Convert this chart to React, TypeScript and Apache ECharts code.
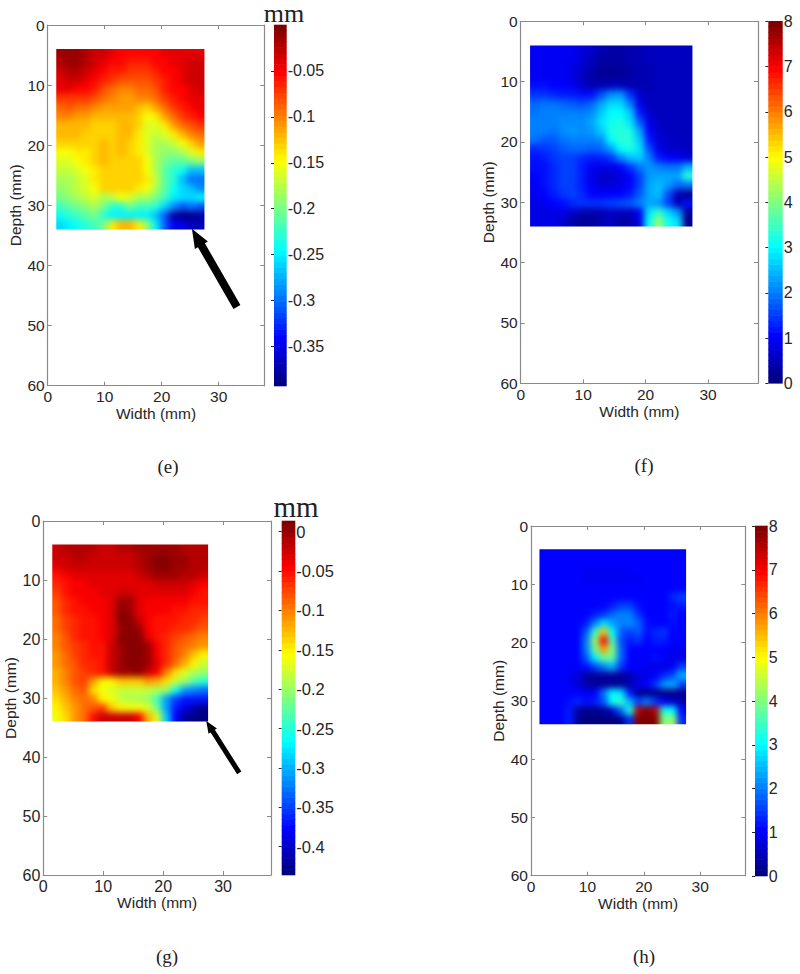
import React, { useEffect, useRef } from "react";
import * as echarts from "echarts";

// Surface values in hundredths of a millimetre (panels e, g), read row by row from 4 to 34 mm depth
const valuesE = [
  [-1,-1,-1,-2,-3,-3,-4,-5,-5,-5,-5,-5,-4,-4,-4,-4,-4],
  [-2,-1,-1,-2,-3,-4,-5,-5,-6,-6,-6,-5,-5,-4,-4,-3,-3],
  [-3,-2,-2,-3,-4,-5,-6,-6,-7,-7,-7,-6,-5,-5,-4,-3,-3],
  [-4,-3,-3,-4,-5,-6,-7,-8,-8,-8,-8,-7,-6,-5,-4,-3,-3],
  [-4,-4,-5,-5,-6,-8,-9,-10,-10,-9,-9,-8,-6,-5,-5,-4,-3],
  [-7,-7,-7,-7,-8,-9,-10,-11,-11,-10,-10,-9,-7,-6,-5,-4,-4],
  [-9,-8,-9,-9,-10,-11,-11,-11,-11,-12,-13,-11,-9,-7,-6,-5,-4],
  [-10,-10,-11,-11,-12,-12,-12,-12,-12,-13,-15,-14,-11,-9,-7,-6,-5],
  [-12,-12,-12,-12,-13,-13,-13,-12,-12,-13,-16,-16,-14,-11,-9,-8,-7],
  [-12,-12,-12,-13,-13,-13,-13,-12,-12,-14,-16,-17,-16,-14,-12,-10,-9],
  [-13,-13,-13,-13,-13,-12,-13,-12,-13,-14,-16,-18,-18,-17,-15,-13,-11],
  [-15,-15,-14,-14,-13,-12,-13,-12,-13,-14,-16,-18,-19,-19,-18,-16,-14],
  [-16,-16,-15,-14,-13,-12,-13,-13,-13,-13,-15,-18,-20,-21,-21,-20,-19],
  [-17,-17,-16,-15,-14,-13,-13,-13,-13,-13,-15,-18,-21,-23,-24,-27,-27],
  [-18,-18,-17,-16,-14,-13,-13,-13,-13,-13,-14,-17,-21,-23,-27,-30,-30],
  [-19,-18,-17,-16,-15,-13,-13,-13,-13,-14,-15,-18,-21,-24,-26,-27,-29],
  [-20,-19,-18,-17,-16,-18,-17,-15,-16,-18,-18,-20,-22,-25,-26,-26,-25],
  [-22,-21,-20,-19,-18,-20,-23,-23,-20,-22,-22,-23,-26,-29,-31,-30,-31],
  [-24,-23,-22,-21,-20,-23,-25,-25,-25,-25,-25,-27,-31,-38,-39,-39,-38],
  [-26,-25,-24,-23,-22,-20,-14,-12,-12,-14,-19,-25,-31,-35,-35,-37,-37],
];
const valuesG = [
  [-2,-1,-1,-1,-1,-2,-2,-1,-1,0,0,0,0,0,-1,-1,-1],
  [-2,-2,-1,-1,-2,-2,-2,-2,-2,-1,0,1,1,0,0,-1,-1],
  [-3,-2,-2,-2,-2,-2,-2,-2,-2,-1,0,1,1,0,0,-1,-1],
  [-5,-4,-3,-3,-3,-3,-3,-3,-3,-2,-1,0,0,0,-1,-1,-2],
  [-6,-5,-4,-4,-3,-3,-3,-3,-3,-3,-3,-2,-2,-2,-2,-3,-4],
  [-7,-5,-4,-4,-4,-3,-3,-2,-2,-3,-3,-3,-3,-3,-3,-4,-5],
  [-8,-6,-5,-4,-4,-4,-3,0,0,-3,-4,-4,-4,-4,-4,-5,-5],
  [-8,-6,-5,-5,-4,-4,-3,1,0,-3,-4,-4,-4,-5,-5,-6,-6],
  [-9,-7,-6,-5,-5,-4,-3,1,1,-2,-4,-5,-5,-5,-6,-6,-7],
  [-9,-7,-6,-5,-5,-4,-3,0,1,0,-4,-5,-5,-6,-6,-7,-8],
  [-10,-8,-6,-5,-5,-4,-3,1,1,1,-3,-5,-6,-7,-8,-9,-10],
  [-10,-8,-7,-6,-5,-5,-2,0,1,1,0,-4,-6,-8,-9,-10,-11],
  [-11,-9,-7,-6,-5,-5,-2,0,1,1,0,-4,-6,-8,-10,-13,-15],
  [-11,-9,-8,-6,-6,-5,-2,0,1,1,0,-3,-6,-9,-12,-15,-18],
  [-12,-10,-8,-7,-6,-5,-2,0,0,1,-2,-4,-10,-14,-17,-19,-20],
  [-12,-10,-8,-7,-11,-15,-15,-13,-13,-13,-11,-12,-14,-18,-20,-23,-25],
  [-13,-11,-9,-8,-14,-16,-17,-18,-18,-18,-18,-19,-20,-26,-31,-32,-33],
  [-14,-12,-10,-9,-10,-15,-16,-18,-19,-19,-20,-24,-31,-35,-37,-37,-37],
  [-15,-13,-11,-9,-8,-7,-13,-15,-16,-16,-17,-22,-31,-37,-39,-41,-43],
  [-16,-14,-11,-9,-5,-2,-2,-2,-2,-4,-12,-17,-29,-38,-42,-44,-44],
];
// Panels f, h: colour-bar units 0 to 8
const valuesF = [
  [.9,.9,.9,.9,.9,.7,.6,.4,.3,.3,.4,.4,.5,.5,.5,.5,.5],
  [.9,.9,.9,.9,.9,.7,.5,.3,.3,.3,.4,.4,.5,.5,.5,.5,.5],
  [.9,.9,.9,.9,.8,.6,.4,.2,.2,.2,.3,.4,.4,.5,.5,.5,.5],
  [.9,.9,.9,.9,.8,.5,.3,.2,.2,.2,.3,.4,.4,.5,.5,.5,.5],
  [1.1,1.1,1,1,.9,.6,.4,.4,.5,.5,.4,.4,.4,.5,.5,.5,.5],
  [1.4,1.4,1.3,1.2,1.2,1.1,1.1,1.6,2.1,2.2,1.4,.6,.5,.5,.5,.5,.5],
  [1.8,1.9,1.9,1.8,1.7,1.6,1.8,2.3,2.7,2.7,2,.8,.5,.5,.5,.5,.5],
  [1.9,2,2,2,2,2,2.1,2.6,3,3,2.6,1.2,.6,.5,.5,.5,.5],
  [2,2,2,2.1,2.1,2.1,2.3,2.8,3.1,3.2,2.8,1.7,.8,.5,.5,.5,.5],
  [2,2,1.9,2.1,2.2,2.1,2.2,2.6,3.2,3.3,3.2,2.3,1,.6,.5,.5,.5],
  [1.9,1.7,1.7,1.9,2,2,2,2.1,3,3.3,3.3,2.6,1.2,.7,.6,.5,.5],
  [1.3,1.4,1.5,1.7,1.8,1.8,1.7,1.8,2.2,3,3.2,2.8,1.6,.8,.6,.6,.5],
  [1.1,1.2,1.4,1.5,1.5,1.3,1.2,1.2,1.4,2,2.5,2.6,2,1.2,1,.9,.7],
  [1.1,1.1,1.3,1.5,1.5,1.2,.9,.8,.8,1,1.4,1.9,2.2,2,1.9,1.9,2.4],
  [1,1.1,1.3,1.5,1.5,1.2,.8,.6,.6,.7,1,1.5,2.2,2.3,2.3,2.3,3.3],
  [.9,1.1,1.3,1.5,1.5,1.2,.9,.7,.7,.8,1,1.5,2.3,2.5,2.2,1.8,1.9],
  [.9,1,1.2,1.4,1.5,1.3,1,1,1,1,1.2,1.7,2.3,2.5,1.6,.4,.1],
  [.8,.9,1,1.1,1.3,1.4,1.4,1.4,1.5,1.6,1.7,2,2.3,2.2,1.5,.4,1.1],
  [.8,.8,.8,.8,.6,.4,.3,.4,.6,.5,.5,.9,2.8,3.4,2.7,2.2,.2],
  [.8,.8,.8,.6,.3,.2,.2,.4,.5,.3,.3,.8,3,4.2,3.1,2.8,.1],
];
const valuesH = [
  [1,1,1,1,1,1,1,1,1,1,1,1,1,1,1,1,1],
  [1,1,1,1,1,1,1,1,1,1,1,1,1,1,1,1,1],
  [1,1,1,1,1,.9,.9,.9,.9,.9,1,1,1,1,1,1,1],
  [1,1,1,1,1,.9,.9,.9,.9,.9,.9,.9,1,1,1,1,1],
  [1,1,1,1,1,1,1,1,1,1,1,1,1,1,1,1,1],
  [1,1,1,1,1,1,1,1,1,1,1,1,1,1,1,1.3,1.5],
  [1,1,1,1,1,1,1,1,1.2,1.5,1.5,1.1,1,1,1,1.1,1.2],
  [1,1,1,1,1,1,1.2,1.4,1.8,2,2,1.4,1,1,1,1.2,1],
  [1,1,1,1,1,1.2,2,2.8,2.3,2,2.1,1.8,1.1,1,1,1.1,1],
  [1,1,1,1,1,1.7,3.4,5.5,3,1.7,1.5,1.7,1.1,1.3,1.4,1,1],
  [1,1,1,1,1,2,4.2,7,3.6,1.6,1.2,1.4,1,1.2,1.2,1,1],
  [1,1,1,1,1,2,3.8,5.8,4,1.8,1,1,1,1,1,.9,.9],
  [1,1,1,1,1,1.7,2.9,3.8,3.7,1.8,1,1,.9,1.1,1,.8,.8],
  [1,1,1,1,1,1.1,1.5,2,2.4,1.4,1,1,.9,.8,.8,.9,1.5],
  [1,1,1,.9,.7,.3,.2,.2,.2,.2,.4,.7,.8,1,1.3,1.6,2.4],
  [1,1,1,.9,.7,.3,.2,.2,.2,.2,.4,.8,1,1.4,2.2,2.4,1.5],
  [1,1,1,1,1,.9,1,1.9,3,2.8,1.2,.2,.1,.1,.1,.1,.1],
  [1,1,1,1.1,1.3,1.1,1.2,1.7,3.1,3.4,2.4,1.5,2,1.4,.9,.6,.4],
  [1,1,1,1.2,.3,.1,.1,.2,.6,1.8,3.2,7.5,8,7.5,3.2,3,1],
  [1,1,1,1.2,.2,0,0,0,0,.1,1.4,8,8,8,4,4.2,1.3],
];

const widthTicks = [0, 10, 20, 30];
const depthTicks = [0, 10, 20, 30, 40, 50, 60];
const mmTicksE = [-0.05, -0.1, -0.15, -0.2, -0.25, -0.3, -0.35];
const mmTicksG = [0, -0.05, -0.1, -0.15, -0.2, -0.25, -0.3, -0.35, -0.4];
const strainTicks = [0, 1, 2, 3, 4, 5, 6, 7, 8];
const arrowE = [33.2, 46.9, 25.3, 33.9];
const arrowG = [32.7, 42.7, 27.2, 33.9];

const X_RANGE = [1.5, 27.5];
const Y_RANGE = [4, 34];
const AXIS = "#8a8a8a";
const INK = "#262626";
const SANS = "Liberation Sans";
const SERIF = "Liberation Serif";

type Panel = {
  caption: string; capX: number; capY: number;
  box: number[]; bar: number[];
  values: number[][]; scale: number; range: number[]; ticks: number[];
  font: number; nameGapX: number; nameGapY: number;
  unit?: { x: number; y: number; size: number };
  arrow?: { at: number[]; shaft: number; head: number; len: number };
};

const panels: Panel[] = [
  { caption: "(e)", capX: 168, capY: 466, box: [47.7, 25, 216.6, 360.7], bar: [274, 25, 12.7, 361],
    values: valuesE, scale: 0.01, range: [-0.393, 0], ticks: mmTicksE, font: 15.5, nameGapX: 16.5, nameGapY: 20,
    unit: { x: 284, y: 13.2, size: 26 }, arrow: { at: arrowE, shaft: 8, head: 15, len: 19 } },
  { caption: "(f)", capX: 644, capY: 465, box: [520.7, 21.3, 237.3, 362], bar: [768.3, 21.3, 14.4, 362],
    values: valuesF, scale: 1, range: [0, 8], ticks: strainTicks, font: 15.5, nameGapX: 16.5, nameGapY: 24 },
  { caption: "(g)", capX: 167, capY: 956, box: [43.3, 521, 227.7, 354], bar: [281.7, 521, 13.6, 354],
    values: valuesG, scale: 0.01, range: [-0.436, 0.0136], ticks: mmTicksG, font: 16, nameGapX: 15.5, nameGapY: 22,
    unit: { x: 296, y: 507, size: 29 }, arrow: { at: arrowG, shaft: 5, head: 10, len: 12 } },
  { caption: "(h)", capX: 644, capY: 956, box: [531, 526, 214.3, 349.7], bar: [755, 526, 12.7, 350],
    values: valuesH, scale: 1, range: [0, 8], ticks: strainTicks, font: 15.5, nameGapX: 15.5, nameGapY: 18 },
];

const clamp = (v: number) => Math.max(0, Math.min(1, v));
function jet(t: number) {
  const c = (k: number) => Math.round(255 * clamp(1.5 - Math.abs(4 * t - k)));
  return `rgb(${c(3)},${c(2)},${c(1)})`;
}

function heatSeries(p: Panel, i: number) {
  const rows = p.values.length;
  const cols = p.values[0].length;
  const dx = (X_RANGE[1] - X_RANGE[0]) / cols;
  const dy = (Y_RANGE[1] - Y_RANGE[0]) / rows;
  const data: number[][] = [];
  p.values.forEach((row, r) =>
    row.forEach((v, c) =>
      data.push([X_RANGE[0] + dx * (c + 0.5), Y_RANGE[0] + dy * (r + 0.5), v * p.scale, c, r])
    )
  );
  const bleed = 14;
  return {
    type: "custom", xAxisIndex: i, yAxisIndex: i, data, silent: true, clip: false,
    encode: { x: 0, y: 1 },
    renderItem: (_: any, api: any) => {
      const [cx, cy] = api.coord([api.value(0), api.value(1)]);
      const [w, h] = api.size([dx, dy]);
      const c = api.value(3);
      const r = api.value(4);
      let x0 = cx - w / 2 - 0.5, x1 = cx + w / 2 + 0.5;
      let y0 = cy - h / 2 - 0.5, y1 = cy + h / 2 + 0.5;
      if (c === 0) x0 -= bleed;
      if (c === cols - 1) x1 += bleed;
      if (r === 0) y0 -= bleed;
      if (r === rows - 1) y1 += bleed;
      const t = (api.value(2) - p.range[0]) / (p.range[1] - p.range[0]);
      return { type: "rect", shape: { x: x0, y: y0, width: x1 - x0, height: y1 - y0 }, style: { fill: jet(clamp(t)) } };
    },
  };
}

const boxAxes = (p: Panel, i: number) => {
  const base = { type: "value", gridIndex: i };
  const line = { show: true, onZero: false, lineStyle: { color: AXIS, width: 1.2 } };
  const tick = (values: number[]) => ({
    show: true, inside: true, length: 4, customValues: values, lineStyle: { color: AXIS, width: 1 },
  });
  return {
    x: [
      { ...base, position: "bottom", min: 0, max: 38, splitLine: { show: false }, axisLine: line,
        axisTick: tick(widthTicks),
        axisLabel: { customValues: widthTicks, color: INK, fontFamily: SANS, fontSize: p.font, margin: 3 },
        name: "Width (mm)", nameLocation: "middle", nameGap: p.nameGapX,
        nameTextStyle: { color: INK, fontFamily: SANS, fontSize: 15.5 } },
      { ...base, position: "top", min: 0, max: 38, splitLine: { show: false }, axisLine: line,
        axisTick: tick(widthTicks), axisLabel: { show: false } },
    ],
    y: [
      { ...base, position: "left", min: 0, max: 60, inverse: true, splitLine: { show: false }, axisLine: line,
        axisTick: tick(depthTicks),
        axisLabel: { customValues: depthTicks, color: INK, fontFamily: SANS, fontSize: p.font, margin: 3 },
        name: "Depth (mm)", nameLocation: "middle", nameGap: p.nameGapY,
        nameTextStyle: { color: INK, fontFamily: SANS, fontSize: 15.5 } },
      { ...base, position: "right", min: 0, max: 60, inverse: true, splitLine: { show: false }, axisLine: line,
        axisTick: tick(depthTicks), axisLabel: { show: false } },
    ],
  };
};

function heatOption() {
  return {
    animation: false,
    backgroundColor: "transparent",
    grid: panels.map((p) => ({ left: p.box[0], top: p.box[1], width: p.box[2], height: p.box[3] })),
    xAxis: panels.map((p, i) => ({ type: "value", gridIndex: i, min: 0, max: 38, show: false })),
    yAxis: panels.map((p, i) => ({ type: "value", gridIndex: i, min: 0, max: 60, inverse: true, show: false })),
    series: panels.map(heatSeries),
  };
}

function mainOption() {
  const grid: any[] = [];
  const xAxis: any[] = [];
  const yAxis: any[] = [];
  const series: any[] = [];
  const graphic: any[] = [];
  panels.forEach((p) => {
    grid.push({ left: p.box[0], top: p.box[1], width: p.box[2], height: p.box[3] });
    const ax = boxAxes(p, grid.length - 1);
    const xIdx = xAxis.length;
    const yIdx = yAxis.length;
    xAxis.push(...ax.x);
    yAxis.push(...ax.y);

    if (p.arrow) {
      const a = p.arrow;
      series.push({
        type: "custom", xAxisIndex: xIdx, yAxisIndex: yIdx, data: [a.at], silent: true, clip: false,
        encode: { x: [0, 2], y: [1, 3] },
        renderItem: (_: any, api: any) => {
          const [tx, ty] = api.coord([api.value(0), api.value(1)]);
          const [hx, hy] = api.coord([api.value(2), api.value(3)]);
          const L = Math.hypot(tx - hx, ty - hy);
          const ux = (tx - hx) / L, uy = (ty - hy) / L;
          const nx = -uy, ny = ux;
          const bx = hx + ux * a.len, by = hy + uy * a.len;
          const pts = [
            [hx, hy],
            [bx + (nx * a.head) / 2, by + (ny * a.head) / 2],
            [bx + (nx * a.shaft) / 2, by + (ny * a.shaft) / 2],
            [tx + (nx * a.shaft) / 2, ty + (ny * a.shaft) / 2],
            [tx - (nx * a.shaft) / 2, ty - (ny * a.shaft) / 2],
            [bx - (nx * a.shaft) / 2, by - (ny * a.shaft) / 2],
            [bx - (nx * a.head) / 2, by - (ny * a.head) / 2],
          ];
          return { type: "polygon", shape: { points: pts }, style: { fill: "#000" } };
        },
      });
    }

    // colour bar
    grid.push({ left: p.bar[0], top: p.bar[1], width: p.bar[2], height: p.bar[3] });
    const g = grid.length - 1;
    const bx = xAxis.length;
    const by = yAxis.length;
    xAxis.push({ type: "value", gridIndex: g, min: 0, max: 1, show: false });
    yAxis.push({
      type: "value", gridIndex: g, position: "right", min: p.range[0], max: p.range[1],
      splitLine: { show: false }, axisLine: { show: false },
      axisTick: { show: true, inside: true, length: 3, customValues: p.ticks, lineStyle: { color: INK, width: 1 } },
      axisLabel: { customValues: p.ticks, color: INK, fontFamily: SANS, fontSize: p.font + 0.5, margin: 1 },
    });
    const levels = 64;
    const step = (p.range[1] - p.range[0]) / levels;
    const bands: number[][] = [];
    for (let k = 0; k < levels; k++) bands.push([0.5, p.range[0] + step * (k + 0.5), k / (levels - 1)]);
    series.push({
      type: "custom", xAxisIndex: bx, yAxisIndex: by, data: bands, silent: true, z: 1,
      encode: { x: 0, y: 1 },
      renderItem: (_: any, api: any) => {
        const [cx, cy] = api.coord([api.value(0), api.value(1)]);
        const [w, h] = api.size([1, step]);
        return {
          type: "rect",
          shape: { x: cx - w / 2, y: cy - h / 2 - 0.3, width: w, height: h + 0.6 },
          style: { fill: jet(api.value(2)) },
        };
      },
    });

    graphic.push({
      type: "text", x: p.capX, y: p.capY,
      style: { text: p.caption, fontFamily: SERIF, fontSize: 19, fill: "#222", align: "center", verticalAlign: "middle" },
    });
    if (p.unit) {
      graphic.push({
        type: "text", x: p.unit.x, y: p.unit.y,
        style: { text: "mm", fontFamily: SERIF, fontSize: p.unit.size, fill: "#222", align: "center", verticalAlign: "middle" },
      });
    }
  });
  return { animation: false, backgroundColor: "transparent", grid, xAxis, yAxis, series, graphic };
}

// The heat maps are clipped to the measured rectangle of each panel.
const clipPath = panels
  .map((p) => {
    const sx = p.box[2] / 38, sy = p.box[3] / 60;
    const x0 = p.box[0] + X_RANGE[0] * sx, x1 = p.box[0] + X_RANGE[1] * sx;
    const y0 = p.box[1] + Y_RANGE[0] * sy, y1 = p.box[1] + Y_RANGE[1] * sy;
    return `M${x0} ${y0}H${x1}V${y1}H${x0}Z`;
  })
  .join("");

const layer: React.CSSProperties = { position: "absolute", left: 0, top: 0, width: 800, height: 974 };

export default function App() {
  const heatRef = useRef<HTMLDivElement>(null);
  const mainRef = useRef<HTMLDivElement>(null);
  useEffect(() => {
    const heat = echarts.init(heatRef.current!, undefined, { renderer: "svg" });
    const main = echarts.init(mainRef.current!, undefined, { renderer: "svg" });
    heat.setOption(heatOption() as any);
    main.setOption(mainOption() as any);
    return () => {
      heat.dispose();
      main.dispose();
    };
  }, []);
  return (
    <div style={{ ...layer, background: "#fff", overflow: "hidden" }}>
      <div style={{ ...layer, clipPath: `path("${clipPath}")` }}>
        <div ref={heatRef} style={{ ...layer, filter: "blur(3.4px)" }} />
      </div>
      <div ref={mainRef} style={layer} />
    </div>
  );
}
